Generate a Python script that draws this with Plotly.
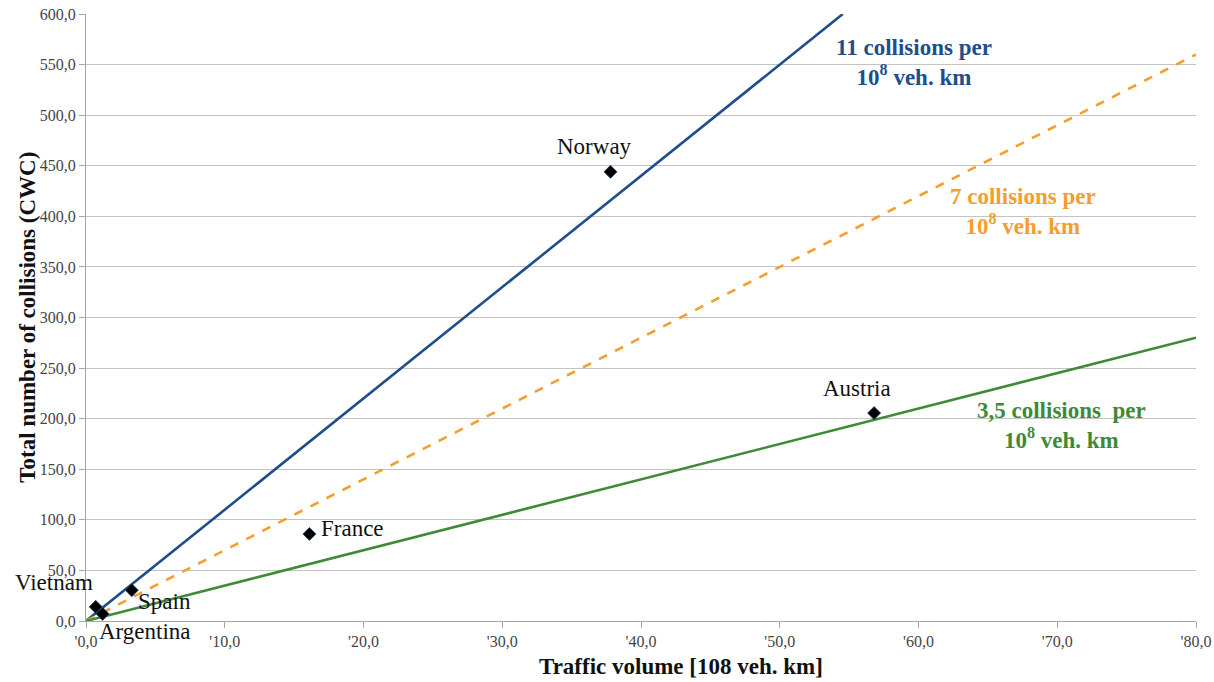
import plotly.graph_objects as go

# Country observations: traffic volume (10^8 veh. km) vs total collisions (CWC)
countries = ["Vietnam", "Argentina", "Spain", "France", "Norway", "Austria"]
traffic = [0.7, 1.2, 3.3, 16.1, 37.8, 56.8]
collisions = [14.0, 7.0, 30.5, 86.0, 444.0, 205.5]

# Reference collision rates (collisions per 10^8 veh. km)
rates = [11, 7, 3.5]
rate_colors = ["#1F4E89", "#F59D2F", "#3E8A36"]
rate_dash = ["solid", "dash", "solid"]
rate_labels = [
    "11 collisions per<br>10<sup>8</sup> veh. km",
    "7 collisions per<br>10<sup>8</sup> veh. km",
    "3,5 collisions  per<br>10<sup>8</sup> veh. km",
]
rate_label_pos = [(59.7, 552.0), (67.5, 405.0), (70.3, 193.5)]

x_ticks = [0, 10, 20, 30, 40, 50, 60, 70, 80]
x_tick_text = ["'0,0", "'10,0", "'20,0", "'30,0", "'40,0", "'50,0", "'60,0", "'70,0", "'80,0"]
y_ticks = list(range(0, 601, 50))
y_tick_text = [f"{v},0" for v in y_ticks]

x_title = "Traffic volume [108 veh. km]"
y_title = "Total number of collisions (CWC)"

X_MAX, Y_MAX = 80, 600

fig = go.Figure()

for r, c, d in zip(rates, rate_colors, rate_dash):
    x_end = min(X_MAX, Y_MAX / r)
    fig.add_trace(go.Scatter(
        x=[0, x_end], y=[0, r * x_end], mode="lines",
        line=dict(color=c, width=2.6, dash=d), showlegend=False, hoverinfo="skip",
    ))

fig.add_trace(go.Scatter(
    x=traffic, y=collisions, mode="markers",
    marker=dict(symbol="diamond", size=10, color="black",
                line=dict(color="#1F3F6F", width=0.8)),
    showlegend=False,
))

serif = "Liberation Serif, Times New Roman, serif"

# Country name labels placed beside their markers
label_offsets = {
    "Vietnam": (-42, -24),
    "Argentina": (42, 18),
    "Spain": (33, 11),
    "France": (43, -6),
    "Norway": (-16, -25),
    "Austria": (-17, -25),
}
for name, xv, yv in zip(countries, traffic, collisions):
    ax, ay = label_offsets[name]
    fig.add_annotation(
        x=xv, y=yv, text=name, showarrow=True, arrowcolor="rgba(0,0,0,0)",
        ax=ax, ay=ay, font=dict(family=serif, size=23, color="#111111"),
        xanchor="center", yanchor="middle",
    )

for lab, (lx, ly), c in zip(rate_labels, rate_label_pos, rate_colors):
    fig.add_annotation(
        x=lx, y=ly, text=f"<b>{lab}</b>", showarrow=False,
        font=dict(family=serif, size=23, color=c), align="center",
        xanchor="center", yanchor="middle",
    )

# Axis titles
fig.add_annotation(
    xref="paper", yref="paper", x=0.536, y=-0.075, text=f"<b>{x_title}</b>",
    showarrow=False, xanchor="center", yanchor="middle",
    font=dict(family=serif, size=23, color="#111111"),
)
fig.add_annotation(
    xref="paper", yref="paper", x=-0.053, y=0.5, text=f"<b>{y_title}</b>",
    showarrow=False, xanchor="center", yanchor="middle", textangle=-90,
    font=dict(family=serif, size=23, color="#111111"),
)

fig.update_layout(
    width=1214, height=682,
    margin=dict(l=86, r=18, t=14, b=61),
    paper_bgcolor="white", plot_bgcolor="white",
    font=dict(family=serif),
    xaxis=dict(
        range=[0, X_MAX], tickvals=x_ticks, ticktext=x_tick_text, automargin=False,
        showgrid=False, zeroline=False, showline=True, linecolor="#A6A6A6", linewidth=1,
        ticks="outside", ticklen=6, tickcolor="#A6A6A6",
        tickfont=dict(family=serif, size=16, color="#444444"),
    ),
    yaxis=dict(
        range=[0, Y_MAX], tickvals=y_ticks, ticktext=y_tick_text, automargin=False,
        showgrid=True, gridcolor="#C4C4C4", gridwidth=1,
        zeroline=False, showline=True, linecolor="#A6A6A6", linewidth=1,
        ticks="outside", ticklen=6, tickcolor="#A6A6A6",
        tickfont=dict(family=serif, size=16, color="#444444"),
    ),
)

fig.write_html("out.html")
